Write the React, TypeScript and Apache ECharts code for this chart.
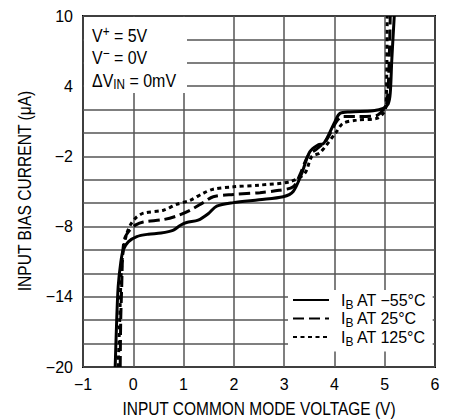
import { useEffect, useRef } from "react";
import * as echarts from "echarts";

const FONT = "'Liberation Sans', Arial, sans-serif";

const seriesNames = ["IB AT −55°C", "IB AT 25°C", "IB AT 125°C"];
const legendTemps = ["−55°C", "25°C", "125°C"];

const xTitle = "INPUT COMMON MODE VOLTAGE (V)";
const yTitle = "INPUT BIAS CURRENT (μA)";

// input common mode voltage (V), input bias current (uA)
const curveMinus55: [number, number][] = [
  [-0.36, -20], [-0.33, -16], [-0.3, -13.1], [-0.25, -11.1], [-0.2, -10], [-0.1, -9.3],
  [0.07, -8.85], [0.3, -8.65], [0.55, -8.55], [0.8, -8.3], [0.93, -7.9], [1.06, -7.65],
  [1.29, -7.45], [1.49, -6.9], [1.66, -6.25], [1.99, -5.95], [2.5, -5.7], [2.98, -5.45],
  [3.18, -5.0], [3.35, -3.45], [3.51, -1.6], [3.68, -1.0], [3.78, -0.9], [3.88, -0.2],
  [4.01, 0.97], [4.11, 1.68], [4.31, 1.8], [4.77, 1.9], [4.97, 2.1], [5.07, 2.5],
  [5.11, 3.4], [5.14, 6.2], [5.19, 10],
];
const curve25: [number, number][] = [
  [-0.26, -20], [-0.25, -16], [-0.23, -13.1], [-0.21, -10.3], [-0.17, -9.0], [-0.07, -8.3],
  [0.05, -7.85], [0.2, -7.6], [0.6, -7.4], [0.86, -7.1], [1.13, -6.6], [1.39, -5.95],
  [1.59, -5.45], [1.99, -5.25], [2.52, -5.1], [2.9, -4.9], [3.18, -4.6], [3.31, -3.6],
  [3.48, -1.9], [3.64, -1.4], [3.84, -0.6], [4.04, 0.97], [4.17, 1.4], [4.44, 1.4],
  [4.84, 1.5], [4.97, 1.97], [5.04, 2.5], [5.08, 5], [5.11, 10],
];
const curve125: [number, number][] = [
  [-0.3, -20], [-0.27, -16], [-0.24, -12], [-0.2, -10], [-0.13, -8.6], [-0.05, -7.8],
  [0.05, -7.25], [0.2, -6.85], [0.6, -6.6], [0.86, -6.1], [1.13, -5.75], [1.39, -5.15],
  [1.59, -4.8], [1.99, -4.6], [2.52, -4.45], [3.12, -4.15], [3.41, -3.45], [3.55, -2.0],
  [3.71, -1.7], [4.04, 0.1], [4.17, 0.83], [4.44, 1.1], [4.84, 1.25], [4.97, 1.68],
  [5.02, 2.2], [5.04, 5], [5.05, 10],
];

const conditionsLines = [
  "{n|V}{sup|+}{n| = 5V}",
  "{n|V}{sup|−}{n| = 0V}",
  "{n|ΔV}{sub|IN}{n| = 0mV}",
];

const fmtNum = (v: number) => (v < 0 ? "−" + Math.abs(v) : String(v));

export default function App() {
  const ref = useRef<HTMLDivElement>(null);
  useEffect(() => {
    const chart = echarts.init(ref.current!, null, { renderer: "svg" });
    const fs = 16;
    const mkRich = (size: number, subSize: number, lh: number) => ({
      n: { fontFamily: FONT, fontSize: size, color: "#000", lineHeight: lh, verticalAlign: "middle" },
      sub: { fontFamily: FONT, fontSize: subSize, color: "#000", lineHeight: lh, verticalAlign: "bottom" },
      sup: { fontFamily: FONT, fontSize: subSize, color: "#000", lineHeight: lh, verticalAlign: "top" },
    });
    const styles = [
      { type: "solid" as const },
      { type: [11, 5] as number[] },
      { type: [4, 3.5] as number[] },
    ];
    const datas = [curveMinus55, curve25, curve125];
    chart.setOption({
      animation: false,
      grid: {
        left: 83, top: 16, right: 16, bottom: 53,
        show: true, borderColor: "#000", borderWidth: 2, backgroundColor: "#fff",
      },
      xAxis: {
        type: "value", min: -1, max: 6, interval: 1,
        axisLine: { show: false }, axisTick: { show: false },
        splitLine: { show: true, lineStyle: { color: "#555", width: 1.5 } },
        axisLabel: { color: "#000", fontFamily: FONT, fontSize: fs, margin: 9, formatter: fmtNum },
      },
      yAxis: {
        type: "value", min: -20, max: 10, interval: 2,
        axisLine: { show: false }, axisTick: { show: false },
        splitLine: { show: true, lineStyle: { color: "#555", width: 1.5 } },
        axisLabel: {
          color: "#000", fontFamily: FONT, fontSize: fs, margin: 10,
          formatter: (v: number) => ((v + 20) % 6 === 0 ? fmtNum(v) : ""),
        },
      },
      legend: {
        orient: "vertical", left: 288, top: 290, backgroundColor: "#fff",
        padding: [2, 6, 4, 4], itemGap: 0, itemWidth: 36, itemHeight: 14,
        itemStyle: { opacity: 0 },
        data: seriesNames,
        formatter: (name: string) => {
          const i = seriesNames.indexOf(name);
          return "{n|I}{sub|B}{n| AT " + legendTemps[i] + "}";
        },
        textStyle: { rich: mkRich(16, 12, 21), padding: [0, 0, 0, 7] },
      },
      series: seriesNames.map((name, i) => ({
        name, type: "line", data: datas[i], showSymbol: false, symbol: "none",
        smooth: 0.3, z: 3,
        lineStyle: { color: "#000", width: 3, type: styles[i].type },
        itemStyle: { color: "#000" },
      })),
      graphic: [
        { type: "rect", z: 10, shape: { x: 84, y: 17, width: 103, height: 76 }, style: { fill: "#fff" } },
        {
          type: "text", z: 11, x: 92, y: 24, scaleX: 0.84,
          style: { text: conditionsLines.join("\n"), rich: mkRich(19, 14, 22.5), fill: "#000" },
        },
        {
          type: "text", z: 11, x: 259, y: 409, scaleX: 0.86,
          style: { text: xTitle, fontFamily: FONT, fontSize: 18, fill: "#000", align: "center", verticalAlign: "middle" },
        },
        {
          type: "text", z: 11, x: 24, y: 191, rotation: Math.PI / 2, scaleX: 0.82,
          style: { text: yTitle, fontFamily: FONT, fontSize: 19, fill: "#000", align: "center", verticalAlign: "middle" },
        },
      ],
    });
    return () => chart.dispose();
  }, []);
  return <div ref={ref} style={{ position: "absolute", left: 0, top: 0, width: 451, height: 420 }} />;
}
